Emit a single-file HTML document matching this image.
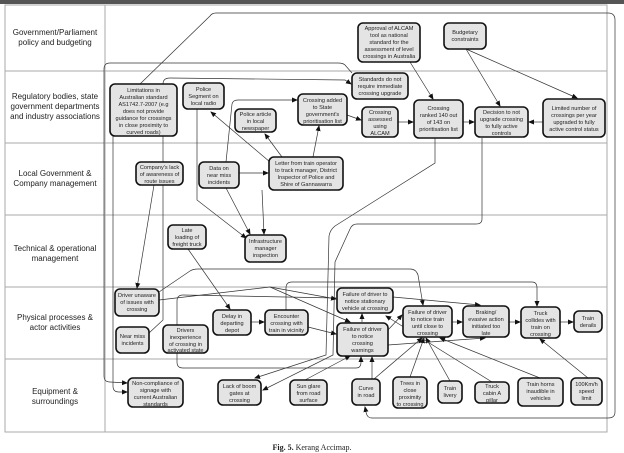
<!DOCTYPE html>
<html><head><meta charset="utf-8"><style>
html,body{margin:0;padding:0;background:#fff;}
svg{display:block;}
.n{fill:#e4e4e4;stroke:#111;stroke-width:1.6;}
.t{font-family:"Liberation Sans",sans-serif;font-size:5.6px;fill:#222;text-anchor:middle;}
.l{font-family:"Liberation Sans",sans-serif;font-size:8px;fill:#222;text-anchor:middle;}
.c{fill:none;stroke:#333;stroke-width:0.7;}
.g{stroke:#aaa;stroke-width:1;fill:none;}
</style></head><body>
<svg width="624" height="453" viewBox="0 0 624 453" xmlns="http://www.w3.org/2000/svg">
<defs><marker id="a" markerWidth="6" markerHeight="6" refX="5" refY="3" orient="auto" markerUnits="userSpaceOnUse"><path d="M0,0.5 L6,3 L0,5.5z" fill="#111"/></marker></defs>
<rect x="0" y="0" width="624" height="4" fill="#555"/>
<rect x="5" y="5" width="602" height="427" class="g"/>
<line x1="105" y1="5" x2="105" y2="432" class="g"/>
<g class="g"><line x1="5" y1="71" x2="607" y2="71"/><line x1="5" y1="143" x2="607" y2="143"/><line x1="5" y1="215" x2="607" y2="215"/><line x1="5" y1="287" x2="607" y2="287"/><line x1="5" y1="359" x2="607" y2="359"/></g>
<text class="l" x="55" y="35">Government/Parliament</text><text class="l" x="55" y="45">policy and budgeting</text>
<text class="l" x="55" y="99">Regulatory bodies, state</text><text class="l" x="55" y="109">government departments</text><text class="l" x="55" y="119">and industry associations</text>
<text class="l" x="55" y="176">Local Government &amp;</text><text class="l" x="55" y="186">Company management</text>
<text class="l" x="55" y="251">Technical &amp; operational</text><text class="l" x="55" y="261">management</text>
<text class="l" x="55" y="320">Physical processes &amp;</text><text class="l" x="55" y="330">actor activities</text>
<text class="l" x="55" y="394">Equipment &amp;</text><text class="l" x="55" y="404">surroundings</text>
<text x="312" y="450" style="font-family:'Liberation Serif',serif;font-size:8px" text-anchor="middle" fill="#222"><tspan font-weight="bold">Fig. 5.</tspan> Kerang Accimap.</text>

<g class="c">
<path d="M140,84 L210,16 Q212,13 216,13 L608,13 Q615,13 615,20 L615,412 Q615,418 608,418 L372,418 Q367,418 366,412 L365,407" marker-end="url(#a)"/>
<path d="M352,73 L345,65 Q343,63 338,63 L110,63 Q104,63 104,69 L104,376 Q104,382 110,382 L127,383" marker-end="url(#a)"/>
<path d="M113,136 L113,386 Q113,392 119,392 L127,392" marker-end="url(#a)"/>
<path d="M149,333 L163,320 L163,84 Q163,78 170,78 L345,80 L351,84" marker-end="url(#a)"/>
<path d="M226,162 L232,104 Q233,100 238,100 L297,100" marker-end="url(#a)"/>
<line x1="270" y1="162" x2="211" y2="112" marker-end="url(#a)"/>
<line x1="282" y1="157" x2="265" y2="134" marker-end="url(#a)"/>
<line x1="313" y1="157" x2="319" y2="126" marker-end="url(#a)"/>
<line x1="239" y1="173" x2="268" y2="173" marker-end="url(#a)"/>
<line x1="347" y1="115" x2="361" y2="120" marker-end="url(#a)"/>
<line x1="398" y1="122" x2="413" y2="122" marker-end="url(#a)"/>
<line x1="463" y1="122" x2="474" y2="122" marker-end="url(#a)"/>
<line x1="543" y1="122" x2="529" y2="122" marker-end="url(#a)"/>
<line x1="410" y1="62" x2="433" y2="99" marker-end="url(#a)"/>
<line x1="466" y1="49" x2="500" y2="106" marker-end="url(#a)"/>
<line x1="466" y1="49" x2="577" y2="98" marker-end="url(#a)"/>
<path d="M435,138 L435,163 L335,226 Q330,230 329,236 L326,355 L255,378" marker-end="url(#a)"/>
<path d="M482,138 L482,219 Q482,224 476,224 L357,224 Q352,224 350,229 L335,262 L333,355 L263,390" marker-end="url(#a)"/>
<path d="M197,109 L197,200 L246,238" marker-end="url(#a)"/>
<line x1="226" y1="188" x2="250" y2="234" marker-end="url(#a)"/>
<line x1="262" y1="190" x2="264" y2="234" marker-end="url(#a)"/>
<line x1="154" y1="185" x2="137" y2="288" marker-end="url(#a)"/>
<line x1="188" y1="249" x2="230" y2="309" marker-end="url(#a)"/>
<line x1="251" y1="322" x2="264" y2="322" marker-end="url(#a)"/>
<path d="M159,292 L190,271 Q193,269 198,269 L410,269 Q416,269 418,275 L423,305" marker-end="url(#a)"/>
<path d="M159,300 L270,287 L350,322" marker-end="url(#a)"/>
<path d="M286,310 L286,288 Q286,282 292,282 L532,282 Q537,282 537,288 L537,306" marker-end="url(#a)"/>
<path d="M336,298 L183,295 Q177,295 177,301 L177,362 Q177,368 183,368 L356,368 Q361,368 361,362 L361,357" marker-end="url(#a)"/>
<line x1="270" y1="287" x2="336" y2="299" marker-end="url(#a)"/>
<line x1="308" y1="327" x2="336" y2="334" marker-end="url(#a)"/>
<line x1="362" y1="322" x2="362" y2="314" marker-end="url(#a)"/>
<line x1="393" y1="297" x2="480" y2="305" marker-end="url(#a)"/>
<line x1="388" y1="330" x2="402" y2="315" marker-end="url(#a)"/>
<line x1="388" y1="345" x2="485" y2="338" marker-end="url(#a)"/>
<line x1="452" y1="322" x2="462" y2="322" marker-end="url(#a)"/>
<line x1="509" y1="322" x2="520" y2="322" marker-end="url(#a)"/>
<line x1="560" y1="322" x2="573" y2="322" marker-end="url(#a)"/>
<line x1="305" y1="380" x2="350" y2="356" marker-end="url(#a)"/>
<line x1="372" y1="379" x2="372" y2="357" marker-end="url(#a)"/>
<line x1="374" y1="379" x2="422" y2="338" marker-end="url(#a)"/>
<line x1="410" y1="377" x2="424" y2="338" marker-end="url(#a)"/>
<line x1="450" y1="381" x2="426" y2="338" marker-end="url(#a)"/>
<line x1="492" y1="382" x2="386" y2="316" marker-end="url(#a)"/>
<line x1="540" y1="378" x2="440" y2="338" marker-end="url(#a)"/>
<line x1="588" y1="378" x2="540" y2="339" marker-end="url(#a)"/>
</g>

<g>
<rect class="n" x="110" y="84" width="67" height="52" rx="5"/>
<text class="t" x="143.5" y="92">Limitations in</text><text class="t" x="143.5" y="99">Australian standard</text><text class="t" x="143.5" y="106">AS1742.7-2007 (e.g</text><text class="t" x="143.5" y="113">does not provide</text><text class="t" x="143.5" y="120">guidance for crossings</text><text class="t" x="143.5" y="127">in close proximity to</text><text class="t" x="143.5" y="134">curved roads)</text>
<rect class="n" x="183" y="83" width="41" height="26" rx="5"/>
<text class="t" x="203.5" y="91">Police</text><text class="t" x="203.5" y="98">Segment on</text><text class="t" x="203.5" y="105">local radio</text>
<rect class="n" x="235" y="109" width="41" height="23" rx="5"/>
<text class="t" x="255.5" y="116">Police article</text><text class="t" x="255.5" y="123">in local</text><text class="t" x="255.5" y="130">newspaper</text>
<rect class="n" x="298" y="94" width="49" height="31" rx="5"/>
<text class="t" x="322.5" y="102">Crossing added</text><text class="t" x="322.5" y="109">to State</text><text class="t" x="322.5" y="116">government's</text><text class="t" x="322.5" y="123">prioritisation list</text>
<rect class="n" x="352" y="73" width="56" height="26" rx="5"/>
<text class="t" x="380" y="81">Standards do not</text><text class="t" x="380" y="88">require immediate</text><text class="t" x="380" y="95">crossing upgrade</text>
<rect class="n" x="358" y="23" width="62" height="39" rx="5"/>
<text class="t" x="389" y="30">Approval of ALCAM</text><text class="t" x="389" y="37">tool as national</text><text class="t" x="389" y="44">standard for the</text><text class="t" x="389" y="51">assessment of level</text><text class="t" x="389" y="58">crossings in Australia</text>
<rect class="n" x="444" y="23" width="42" height="26" rx="5"/>
<text class="t" x="465" y="34">Budgetary</text><text class="t" x="465" y="41">constraints</text>
<rect class="n" x="362" y="107" width="36" height="30" rx="5"/>
<text class="t" x="380" y="114">Crossing</text><text class="t" x="380" y="121">assessed</text><text class="t" x="380" y="128">using</text><text class="t" x="380" y="135">ALCAM</text>
<rect class="n" x="414" y="100" width="49" height="38" rx="5"/>
<text class="t" x="438.5" y="110">Crossing</text><text class="t" x="438.5" y="117">ranked 140 out</text><text class="t" x="438.5" y="124">of 143 on</text><text class="t" x="438.5" y="131">prioritisation list</text>
<rect class="n" x="475" y="107" width="53" height="30" rx="5"/>
<text class="t" x="501.5" y="114">Decision to not</text><text class="t" x="501.5" y="121">upgrade crossing</text><text class="t" x="501.5" y="128">to fully active</text><text class="t" x="501.5" y="135">controls</text>
<rect class="n" x="543" y="99" width="62" height="38" rx="5"/>
<text class="t" x="574" y="110">Limited number of</text><text class="t" x="574" y="117">crossings per year</text><text class="t" x="574" y="124">upgraded to fully</text><text class="t" x="574" y="131">active control status</text>
<rect class="n" x="136" y="162" width="47" height="23" rx="5"/>
<text class="t" x="159.5" y="169">Company's lack</text><text class="t" x="159.5" y="176">of awareness of</text><text class="t" x="159.5" y="183">route issues</text>
<rect class="n" x="199" y="162" width="40" height="26" rx="5"/>
<text class="t" x="219" y="170">Data on</text><text class="t" x="219" y="177">near miss</text><text class="t" x="219" y="184">incidents</text>
<rect class="n" x="269" y="157" width="74" height="33" rx="5"/>
<text class="t" x="306" y="165">Letter from train operator</text><text class="t" x="306" y="172">to track manager, District</text><text class="t" x="306" y="179">Inspector of Police and</text><text class="t" x="306" y="186">Shire of Gannawarra</text>
<rect class="n" x="168" y="225" width="38" height="24" rx="5"/>
<text class="t" x="187" y="232">Late</text><text class="t" x="187" y="239">loading of</text><text class="t" x="187" y="246">freight truck</text>
<rect class="n" x="245" y="235" width="41" height="27" rx="5"/>
<text class="t" x="265.5" y="243">Infrastructure</text><text class="t" x="265.5" y="250">manager</text><text class="t" x="265.5" y="257">inspection</text>
<rect class="n" x="115" y="289" width="44" height="27" rx="5"/>
<text class="t" x="137" y="297">Driver unaware</text><text class="t" x="137" y="304">of issues with</text><text class="t" x="137" y="311">crossing</text>
<rect class="n" x="116" y="327" width="33" height="26" rx="5"/>
<text class="t" x="132.5" y="338">Near miss</text><text class="t" x="132.5" y="345">incidents</text>
<rect class="n" x="163" y="325" width="45" height="28" rx="5"/>
<text class="t" x="185.5" y="332">Drivers</text><text class="t" x="185.5" y="339">inexperience</text><text class="t" x="185.5" y="346">of crossing in</text><text class="t" x="185.5" y="352">activated state</text>
<rect class="n" x="213" y="310" width="38" height="25" rx="5"/>
<text class="t" x="232" y="318">Delay in</text><text class="t" x="232" y="325">departing</text><text class="t" x="232" y="332">depot</text>
<rect class="n" x="265" y="310" width="43" height="25" rx="5"/>
<text class="t" x="286.5" y="318">Encounter</text><text class="t" x="286.5" y="325">crossing with</text><text class="t" x="286.5" y="332">train in vicinity</text>
<rect class="n" x="128" y="378" width="55" height="29" rx="5"/>
<text class="t" x="155.5" y="385">Non-compliance of</text><text class="t" x="155.5" y="392">signage with</text><text class="t" x="155.5" y="399">current Australian</text><text class="t" x="155.5" y="406">standards</text>
<rect class="n" x="218" y="380" width="43" height="25" rx="5"/>
<text class="t" x="239.5" y="388">Lack of boom</text><text class="t" x="239.5" y="395">gates at</text><text class="t" x="239.5" y="402">crossing</text>
<rect class="n" x="290" y="380" width="37" height="25" rx="5"/>
<text class="t" x="308.5" y="388">Sun glare</text><text class="t" x="308.5" y="395">from road</text><text class="t" x="308.5" y="402">surface</text>
<rect class="n" x="337" y="288" width="56" height="25" rx="5"/>
<text class="t" x="365" y="296">Failure of driver to</text><text class="t" x="365" y="303">notice stationary</text><text class="t" x="365" y="310">vehicle at crossing</text>
<rect class="n" x="337" y="323" width="51" height="33" rx="5"/>
<text class="t" x="362.5" y="331">Failure of driver</text><text class="t" x="362.5" y="338">to notice</text><text class="t" x="362.5" y="345">crossing</text><text class="t" x="362.5" y="352">warnings</text>
<rect class="n" x="403" y="306" width="49" height="31" rx="5"/>
<text class="t" x="427.5" y="314">Failure of driver</text><text class="t" x="427.5" y="321">to notice train</text><text class="t" x="427.5" y="328">until close to</text><text class="t" x="427.5" y="335">crossing</text>
<rect class="n" x="463" y="306" width="46" height="31" rx="5"/>
<text class="t" x="486" y="314">Braking/</text><text class="t" x="486" y="321">evasive action</text><text class="t" x="486" y="328">initiated too</text><text class="t" x="486" y="335">late</text>
<rect class="n" x="521" y="307" width="39" height="31" rx="5"/>
<text class="t" x="540.5" y="315">Truck</text><text class="t" x="540.5" y="322">collides with</text><text class="t" x="540.5" y="329">train on</text><text class="t" x="540.5" y="336">crossing</text>
<rect class="n" x="574" y="311" width="28" height="21" rx="5"/>
<text class="t" x="588" y="320">Train</text><text class="t" x="588" y="327">derails</text>
<rect class="n" x="352" y="379" width="28" height="26" rx="5"/>
<text class="t" x="366" y="390">Curve</text><text class="t" x="366" y="397">in road</text>
<rect class="n" x="393" y="377" width="34" height="31" rx="5"/>
<text class="t" x="410" y="385">Trees in</text><text class="t" x="410" y="392">close</text><text class="t" x="410" y="399">proximity</text><text class="t" x="410" y="406">to crossing</text>
<rect class="n" x="438" y="381" width="24" height="22" rx="5"/>
<text class="t" x="450" y="390">Train</text><text class="t" x="450" y="397">livery</text>
<rect class="n" x="475" y="382" width="34" height="21" rx="5"/>
<text class="t" x="492" y="388">Truck</text><text class="t" x="492" y="395">cabin A</text><text class="t" x="492" y="402">pillar</text>
<rect class="n" x="518" y="378" width="45" height="28" rx="5"/>
<text class="t" x="540.5" y="386">Train horns</text><text class="t" x="540.5" y="393">inaudible in</text><text class="t" x="540.5" y="400">vehicles</text>
<rect class="n" x="571" y="378" width="31" height="27" rx="5"/>
<text class="t" x="586.5" y="386">100Km/h</text><text class="t" x="586.5" y="393">speed</text><text class="t" x="586.5" y="400">limit</text>
</g>
</svg>
</body></html>
